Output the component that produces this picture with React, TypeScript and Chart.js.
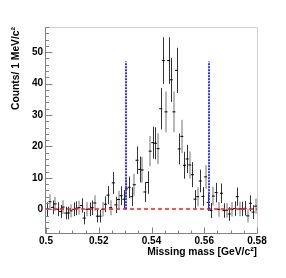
import React, { useEffect, useRef } from 'react';
import { Chart, registerables } from 'chart.js';

Chart.register(...registerables);

// 1 MeV bins from 0.500 to 0.580 GeV/c^2
const binLow = 0.5;
const binWidth = 0.001;
const counts = [
  0, 2.4, 0.6, 1.7, 0, -0.7, 0.7, -1.2, -1.2, -0.5,
  0, 0.3, 0.5, 1.2, -2.8, 0, 0, 0.5, 2.0, -2.2,
  -2.2, 0, 1.6, 4.5, 0.5, 8.4, 1.4, 3.1, 4.3, 3.2,
  6.5, 7.0, 4.0, 7.8, 15.6, 12.7, 12.5, 5.5, 8.5, 18.5,
  21.2, 21.0, 19.3, 32.0, 47.3, 31.0, 47.3, 41.2, 31.0, 44.2,
  19.2, 23.2, 14.0, 16.0, 14.1, 11.0, 3.2, 4.0, 9.0, 4.1,
  10.3, 2.2, -0.4, 4.2, 5.3, 0, 5.1, -0.4, -0.3, -1.5,
  0, 0.2, 4.0, 0.1, 0.1, 0.3, -2.1, 1.9, -0.9, 1.0,
];
const errors = [
  2.2, 2.4, 2.2, 2.3, 2.2, 2.1, 2.2, 2.0, 2.0, 2.1,
  2.2, 2.2, 2.2, 2.3, 2.0, 2.2, 2.2, 2.3, 2.5, 2.0,
  2.0, 2.3, 2.5, 2.9, 2.4, 3.5, 2.6, 2.8, 3.0, 2.9,
  3.3, 3.4, 3.0, 3.5, 4.4, 4.1, 4.1, 3.2, 3.6, 4.8,
  5.1, 5.1, 4.9, 6.6, 7.4, 6.5, 7.4, 7.0, 6.5, 7.2,
  4.9, 5.3, 4.3, 4.5, 4.3, 4.0, 2.9, 3.0, 3.6, 3.0,
  3.8, 2.7, 2.4, 3.0, 3.1, 2.4, 3.1, 2.3, 2.3, 2.2,
  2.3, 2.3, 2.9, 2.3, 2.3, 2.3, 2.1, 2.5, 2.2, 2.4,
];
const grayBins = [
  1, 3, 6, 9, 12, 15, 18, 21, 24, 27, 30, 33, 36, 39, 42, 45, 48, 51,
  54, 57, 60, 63, 65, 68, 70, 73, 76, 79,
];

const xTickValues = [0.5, 0.52, 0.54, 0.56, 0.58];
const xTickLabels = ['0.5', '0.52', '0.54', '0.56', '0.58'];
const yTickValues = [0, 10, 20, 30, 40, 50];
const yTickLabels = ['0', '10', '20', '30', '40', '50'];

const cutLow = 0.5305;
const cutHigh = 0.5617;
const cutTop = 47;
const baseline = 0;

const xMin = 0.5;
const xMax = 0.58;
const yMin = -7.55;
const yMax = 58.0;

const FONT = "'Liberation Sans', Arial, Helvetica, sans-serif";

const centers = counts.map((_, i) => binLow + (i + 0.5) * binWidth);

const rootPlugin = {
  id: 'rootStyle',
  beforeDatasetsDraw(chart: any) {
    const { ctx, scales } = chart;
    const x = scales.x;
    const y = scales.y;
    const gray = new Set(grayBins);
    ctx.save();
    // gray error bars
    ctx.lineWidth = 2;
    ctx.strokeStyle = '#b8b8b8';
    counts.forEach((v, i) => {
      if (!gray.has(i)) return;
      const px = Math.round(x.getPixelForValue(centers[i]));
      ctx.beginPath();
      ctx.moveTo(px, y.getPixelForValue(v + errors[i]));
      ctx.lineTo(px, y.getPixelForValue(v - errors[i]));
      ctx.stroke();
    });
    // dark error bars
    ctx.lineWidth = 1;
    ctx.strokeStyle = '#333333';
    counts.forEach((v, i) => {
      if (gray.has(i)) return;
      const px = Math.round(x.getPixelForValue(centers[i])) + 0.5;
      ctx.beginPath();
      ctx.moveTo(px, y.getPixelForValue(v + errors[i]));
      ctx.lineTo(px, y.getPixelForValue(v - errors[i]));
      ctx.stroke();
    });
    ctx.restore();
  },
  afterDatasetsDraw(chart: any) {
    const { ctx, scales } = chart;
    const x = scales.x;
    const y = scales.y;
    ctx.save();
    // red dashed baseline
    ctx.strokeStyle = '#ff1a1a';
    ctx.lineWidth = 1.5;
    ctx.setLineDash([4, 3]);
    const by = Math.round(y.getPixelForValue(baseline));
    ctx.beginPath();
    ctx.moveTo(x.getPixelForValue(xMin), by);
    ctx.lineTo(x.getPixelForValue(xMax), by);
    ctx.stroke();
    // blue dotted cut lines
    ctx.strokeStyle = '#3333ff';
    ctx.lineWidth = 2;
    ctx.setLineDash([2, 1]);
    [cutLow, cutHigh].forEach((c) => {
      const px = Math.round(x.getPixelForValue(c));
      ctx.beginPath();
      ctx.moveTo(px, y.getPixelForValue(baseline));
      ctx.lineTo(px, y.getPixelForValue(cutTop));
      ctx.stroke();
    });
    ctx.restore();
  },
  afterDraw(chart: any) {
    const { ctx, chartArea: a, scales } = chart;
    const x = scales.x;
    const y = scales.y;
    const L = Math.round(a.left) - 0.5;
    const R = Math.round(a.right) + 0.5;
    const T = Math.round(a.top) + 0.5;
    const B = Math.round(a.bottom) + 0.5;
    ctx.save();
    ctx.lineWidth = 1;
    // frame top/right
    ctx.strokeStyle = '#cfcfcf';
    ctx.beginPath();
    ctx.moveTo(L, T);
    ctx.lineTo(R, T);
    ctx.lineTo(R, B);
    ctx.stroke();
    // axes
    ctx.strokeStyle = '#808080';
    ctx.beginPath();
    ctx.moveTo(L, T);
    ctx.lineTo(L, B);
    ctx.lineTo(R, B);
    ctx.stroke();
    // y ticks
    ctx.beginPath();
    for (let v = -6; v <= yMax; v += 2) {
      const py = Math.round(y.getPixelForValue(v)) + 0.5;
      const len = v % 10 === 0 ? 7 : 3.5;
      ctx.moveTo(L, py);
      ctx.lineTo(L + len, py);
    }
    // x ticks
    for (let k = 0; k <= 16; k++) {
      const v = xMin + k * 0.005;
      const px = Math.round(x.getPixelForValue(v)) + 0.5;
      const len = k % 4 === 0 ? 6 : 3;
      ctx.moveTo(px, B);
      ctx.lineTo(px, B - len);
    }
    ctx.stroke();
    ctx.restore();
  },
};

export default function App() {
  const ref = useRef<HTMLCanvasElement | null>(null);
  useEffect(() => {
    if (!ref.current) return;
    const chart = new Chart(ref.current, {
      type: 'scatter',
      data: {
        datasets: [
          {
            data: counts.map((v, i) => ({ x: centers[i], y: v })),
            pointStyle: 'line',
            pointRadius: 1.5,
            pointBorderWidth: 1,
            borderColor: '#000000',
            backgroundColor: '#000000',
            showLine: false,
          },
        ],
      },
      options: {
        animation: false,
        responsive: false,
        events: [],
        layout: { padding: { top: 27, right: 29, left: 0, bottom: 0 } },
        plugins: { legend: { display: false }, tooltip: { enabled: false } },
        scales: {
          x: {
            type: 'linear',
            position: 'bottom',
            min: xMin,
            max: xMax,
            grid: { display: false, drawTicks: false },
            border: { display: false },
            afterBuildTicks: (axis: any) => {
              axis.ticks = xTickValues.map((v) => ({ value: v }));
            },
            afterFit: (s: any) => {
              s.height = 45;
            },
            ticks: {
              autoSkip: false,
              maxRotation: 0,
              padding: 2,
              color: '#000',
              font: { family: FONT, size: 10, weight: 'bold' },
              callback: (v: any) => {
                const idx = xTickValues.findIndex((t) => Math.abs(t - v) < 1e-9);
                return idx >= 0 ? xTickLabels[idx] : '';
              },
            },
            title: {
              display: true,
              text: 'Missing mass [GeV/c²]',
              align: 'end',
              color: '#000',
              font: { family: FONT, size: 10.3, weight: 'bold' },
              padding: { top: 0, bottom: 19.5 },
            },
          },
          y: {
            type: 'linear',
            min: yMin,
            max: yMax,
            grid: { display: false, drawTicks: false },
            border: { display: false },
            afterBuildTicks: (axis: any) => {
              axis.ticks = yTickValues.map((v) => ({ value: v }));
            },
            afterFit: (s: any) => {
              s.width = 46;
            },
            ticks: {
              autoSkip: false,
              padding: 3,
              color: '#000',
              font: { family: FONT, size: 10, weight: 'bold' },
              callback: (v: any) => {
                const idx = yTickValues.findIndex((t) => Math.abs(t - v) < 1e-9);
                return idx >= 0 ? yTickLabels[idx] : '';
              },
            },
            title: {
              display: true,
              text: 'Counts/ 1 MeV/c²',
              align: 'end',
              color: '#000',
              font: { family: FONT, size: 10.3, weight: 'bold' },
              padding: { top: 10, bottom: 0 },
            },
          },
        },
      },
      plugins: [rootPlugin],
    } as any);
    return () => chart.destroy();
  }, []);
  return (
    <div style={{ position: 'fixed', left: 0, top: 0, width: 286, height: 278, background: '#fff' }}>
      <canvas ref={ref} width={286} height={278} style={{ width: 286, height: 278, display: 'block' }} />
    </div>
  );
}
